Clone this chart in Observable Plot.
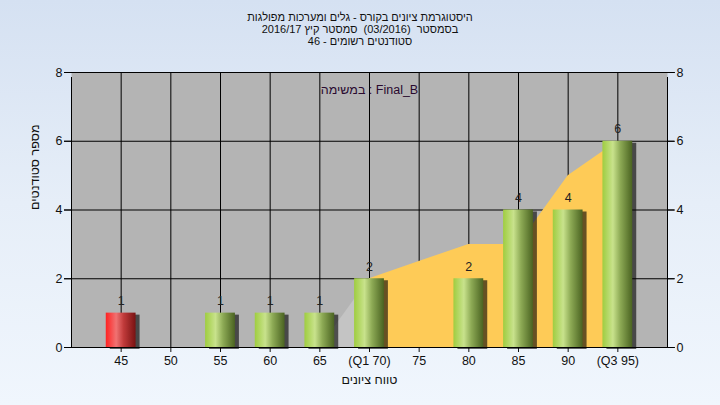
<!DOCTYPE html>
<html><head><meta charset="utf-8">
<script src="https://cdn.jsdelivr.net/npm/d3@7"></script>
<script src="https://cdn.jsdelivr.net/npm/@observablehq/plot@0.6"></script>
<style>
html,body{margin:0;padding:0;}
body{width:720px;height:405px;overflow:hidden;background:linear-gradient(to bottom,#D5E1F2 0%,#E6EEF8 50%,#F0F6FD 100%);}
#chart{position:relative;width:720px;height:405px;}
</style></head><body><div id="chart"></div>
<script>
// ---- data ----
const grades = [45, 50, 55, 60, 65, 70, 75, 80, 85, 90, 95];
const tickLabels = ["45", "50", "55", "60", "65", "(Q1 70)", "75", "80", "85", "90", "(Q3 95)"];
const counts = [1, 0, 1, 1, 1, 2, 0, 2, 4, 4, 6];
const failingGrades = [45];
const outerAreaX = [65, 70];
const outerAreaY = [0, 2];
const bandAreaX = [70, 75, 80, 85, 90, 95];
const bandAreaY = [2, 2.5, 3, 3, 5, 6];
const yTicks = [0, 2, 4, 6, 8];
const titleLines = [
  "היסטוגרמת ציונים בקורס - גלים ומערכות מפולגות",
  "בסמסטר  (03/2016)  סמסטר קיץ 2016/17",
  "סטודנטים רשומים - 46"
];
const noteText = "במשימה : Final_B";
const xTitle = "טווח ציונים";
const yTitle = "מספר סטודנטים";

// ---- derived tables ----
const bars = grades.map((g, i) => ({g, c: counts[i], label: tickLabels[i]})).filter(d => d.c > 0);
const redBars = bars.filter(d => failingGrades.includes(d.g));
const greenBars = bars.filter(d => !failingGrades.includes(d.g));
const outerArea = outerAreaX.map((x, i) => ({x, y: outerAreaY[i]}));
const bandArea = bandAreaX.map((x, i) => ({x, y: bandAreaY[i]}));
const labelOf = new Map(grades.map((g, i) => [g, tickLabels[i]]));
const halfW = 1.5;

const font = "'Liberation Sans', 'DejaVu Sans', sans-serif";

const plot = Plot.plot({
  width: 720,
  height: 405,
  marginLeft: 71,
  marginRight: 53,
  marginTop: 72,
  marginBottom: 58,
  style: {background: "none", fontFamily: font, fontSize: "12.5px", color: "#111", overflow: "visible"},
  x: {domain: [40, 100], ticks: grades, tickSize: 5, tickPadding: 4, tickFormat: d => labelOf.get(d), label: null},
  y: {domain: [0, 8], ticks: yTicks, tickSize: 7, tickPadding: 2, axis: "both", label: null},
  marks: [
    Plot.frame({fill: "#B4B4B4", stroke: null}),
    Plot.ruleX(grades, {stroke: "#000", strokeWidth: 1}),
    Plot.ruleY(yTicks, {stroke: "#000", strokeWidth: 1, insetLeft: -7, insetRight: -7}),
    Plot.areaY(outerArea, {x: "x", y: "y", fill: "#C4C4C4"}),
    Plot.areaY(bandArea, {x: "x", y: "y", fill: "#FECB57"}),
    Plot.rectY(bars, {x1: d => d.g - halfW, x2: d => d.g + halfW, y: "c", dx: 4, dy: 2, fill: "#000", fillOpacity: 0.6, ariaLabel: "shadow"}),
    Plot.rectY(redBars, {x1: d => d.g - halfW, x2: d => d.g + halfW, y: "c", fill: "url(#gradRed)"}),
    Plot.rectY(greenBars, {x1: d => d.g - halfW, x2: d => d.g + halfW, y: "c", fill: "url(#gradGreen)"}),
    Plot.ruleX([40, 100], {y1: 0, y2: 8, stroke: "#000", insetBottom: -5}),
    Plot.ruleY([0], {stroke: "#000", insetLeft: -7, insetRight: -7}),
    Plot.text(bars, {x: "g", y: "c", text: d => String(d.c), dy: -8, lineAnchor: "bottom", fill: "#222", fontSize: 12.5}),
    Plot.text([noteText], {frameAnchor: "top", dy: 13, text: d => d, fill: "#2a0a30", fontSize: 12.5}),
    Plot.text([xTitle], {frameAnchor: "bottom", dy: 36, text: d => d, fill: "#111", fontSize: 12.5}),
    Plot.text([yTitle], {frameAnchor: "left", dx: -37, rotate: -90, text: d => d, fill: "#111", fontSize: 12.5})
  ]
});

const svg = d3.select(plot);
const defs = svg.insert("defs", ":first-child");
const gg = defs.append("linearGradient").attr("id", "gradGreen").attr("x1", "0").attr("x2", "1").attr("y1", "0").attr("y2", "0");
[["0%", "#9FCD40"], ["35%", "#C8E28C"], ["60%", "#8DAA55"], ["100%", "#4A6321"]].forEach(([o, c]) => gg.append("stop").attr("offset", o).attr("stop-color", c));
const gr = defs.append("linearGradient").attr("id", "gradRed").attr("x1", "0").attr("x2", "1").attr("y1", "0").attr("y2", "0");
[["0%", "#FF2222"], ["35%", "#F07272"], ["60%", "#C03A3A"], ["100%", "#781212"]].forEach(([o, c]) => gr.append("stop").attr("offset", o).attr("stop-color", c));
const f = defs.append("filter").attr("id", "blur").attr("x", "-50%").attr("y", "-50%").attr("width", "200%").attr("height", "200%");
f.append("feGaussianBlur").attr("stdDeviation", 2);
svg.selectAll('g[aria-label="shadow"]').attr("filter", "url(#blur)");

const t = svg.append("g").attr("font-family", font).attr("font-size", 11).attr("fill", "#111").attr("text-anchor", "middle");
titleLines.forEach((line, i) => {
  t.append("text").attr("x", 360).attr("y", 21 + i * 12).attr("direction", "rtl").attr("unicode-bidi", "embed").text(line);
});

document.getElementById("chart").appendChild(plot);
</script>
</body></html>
